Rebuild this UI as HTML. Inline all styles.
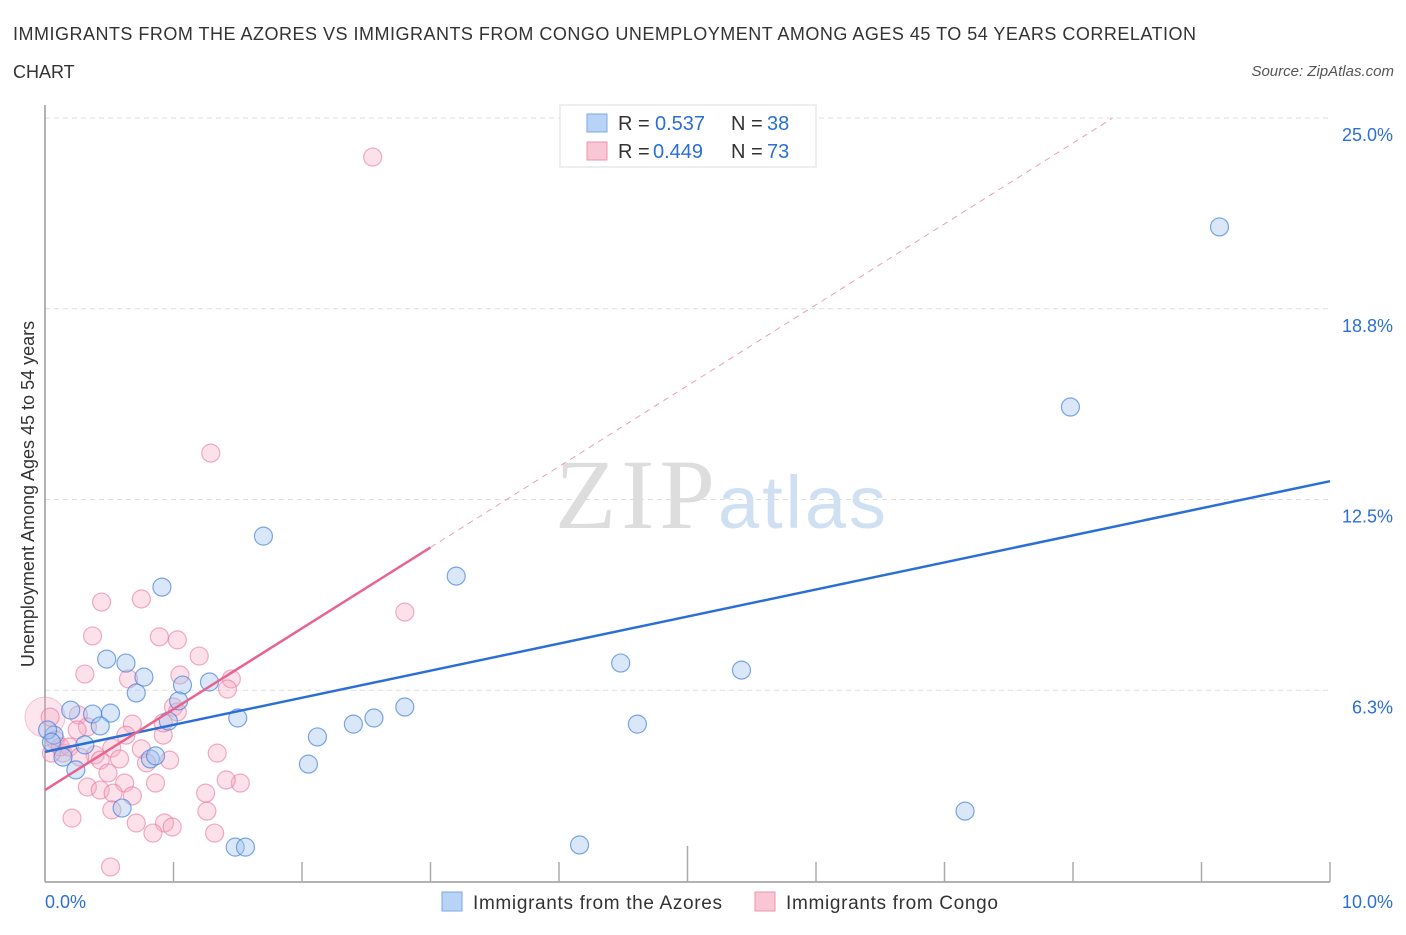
<!DOCTYPE html>
<html><head><meta charset="utf-8"><style>
body{margin:0;background:#fff;font-family:"Liberation Sans",sans-serif;}
#c{position:absolute;left:0;top:0;width:1406px;height:930px;}
</style></head><body>
<div id="c">
<svg width="1406" height="930" xmlns="http://www.w3.org/2000/svg">
<text x="13" y="40" font-size="18" fill="#333" textLength="1183">IMMIGRANTS FROM THE AZORES VS IMMIGRANTS FROM CONGO UNEMPLOYMENT AMONG AGES 45 TO 54 YEARS CORRELATION</text>
<text x="13" y="78" font-size="18" fill="#333">CHART</text>
<text x="1394" y="76" font-size="15" fill="#555" font-style="italic" text-anchor="end">Source: ZipAtlas.com</text>
<text x="555" y="528" font-size="100" fill="#ddd" font-family="Liberation Serif,serif" textLength="160">ZIP</text>
<text x="718" y="528" font-size="74" fill="#cfe0f3" textLength="168">atlas</text>
<g id="grid"></g>
<g id="axes"></g>
<g id="marks"></g>
<text transform="translate(34,494) rotate(-90)" font-size="18" fill="#333" text-anchor="middle">Unemployment Among Ages 45 to 54 years</text>
<g>
<rect x="560" y="105" width="256" height="62" fill="#fff" stroke="#ddd"/>
<rect x="587" y="114" width="20" height="18" fill="#b8d3f5" stroke="#7aa8e6"/>
<rect x="587" y="142" width="20" height="18" fill="#f9c6d5" stroke="#ee93ad"/>
<text x="618" y="130" font-size="20" fill="#333">R =</text>
<text x="655" y="130" font-size="20" fill="#2b6fd6">0.537</text>
<text x="731" y="130" font-size="20" fill="#333">N =</text>
<text x="767" y="130" font-size="20" fill="#2b6fd6">38</text>
<text x="618" y="158" font-size="20" fill="#333">R =</text>
<text x="653" y="158" font-size="20" fill="#2b6fd6">0.449</text>
<text x="731" y="158" font-size="20" fill="#333">N =</text>
<text x="767" y="158" font-size="20" fill="#2b6fd6">73</text>
</g>
<g>
<rect x="442" y="892" width="20" height="19" fill="#b8d3f5" stroke="#7aa8e6"/>
<text x="473" y="909" font-size="19" fill="#333" textLength="249">Immigrants from the Azores</text>
<rect x="755" y="892" width="20" height="19" fill="#f9c6d5" stroke="#ee93ad"/>
<text x="786" y="909" font-size="19" fill="#333" textLength="212">Immigrants from Congo</text>
</g>
</svg>
</div>
<script>
const blueX=[9.14,7.98,1.70,3.20,0.91,0.48,0.63,0.77,0.71,1.07,1.28,4.48,5.42,1.04,2.80,0.20,0.37,0.51,1.50,2.56,2.40,4.61,0.96,0.43,2.12,0.07,0.31,0.14,2.05,0.24,0.82,0.86,0.60,7.16,4.16,1.48,1.56,0.02,0.05];
const blueY=[21.43,15.53,11.30,9.99,9.63,7.27,7.14,6.68,6.16,6.42,6.52,7.14,6.91,5.90,5.70,5.60,5.47,5.50,5.34,5.34,5.14,5.14,5.24,5.08,4.72,4.78,4.46,4.06,3.83,3.64,4.00,4.10,2.39,2.29,1.18,1.11,1.11,4.95,4.55];
const pinkX=[2.55,1.29,2.80,0.44,0.75,0.37,0.89,1.03,1.20,0.31,1.05,0.65,1.45,1.42,1.00,0.26,0.68,0.63,0.92,0.04,1.34,0.52,0.75,0.39,0.14,0.43,0.58,0.79,0.97,0.49,0.33,0.62,0.86,1.25,1.52,1.41,0.43,0.53,0.68,0.52,1.26,0.21,0.71,0.93,0.99,0.84,1.32,0.51,0.08,0.12,0.19,0.27,0.05,0.33,0.25,0.92,1.03];
const pinkY=[23.72,14.02,8.81,9.14,9.24,8.03,8.00,7.90,7.37,6.78,6.75,6.62,6.62,6.29,5.70,5.44,5.14,4.78,4.78,5.37,4.19,4.36,4.33,4.13,4.19,3.96,4.00,3.87,3.96,3.54,3.08,3.21,3.21,2.88,3.21,3.31,2.98,2.88,2.79,2.33,2.29,2.06,1.90,1.90,1.77,1.57,1.57,0.46,4.62,4.39,4.39,4.06,4.19,5.05,4.95,5.18,5.54];
const blueTrend=[4.23,0.887];
const pinkTrend=[2.98,2.65];
const yTicks=[6.25,12.5,18.75,25];
const yTickLabels=["6.3%","12.5%","18.8%","25.0%"];
const xTicks=[0,1,2,3,4,5,6,7,8,9,10];
const NS="http://www.w3.org/2000/svg";
const sx=v=>45+v*128.5, sy=v=>881-v*30.52;
function mk(tag,at,parent){const e=document.createElementNS(NS,tag);for(const k in at)e.setAttribute(k,at[k]);document.getElementById(parent).appendChild(e);return e;}
yTicks.forEach((t,i)=>{
 const l=mk('line',{x1:45,x2:1330,y1:sy(t),y2:sy(t),stroke:'#ddd','stroke-dasharray':'5,4'},'grid');
 
 
 const tx=mk('text',{x:1393,y:sy(t)+23,'font-size':18,fill:'#2b6fd6','text-anchor':'end'},'grid');
 tx.textContent=yTickLabels[i];
 
 
});
const ya=mk('line',{x1:45,x2:45,y1:105,y2:882,stroke:'#999','stroke-width':1.5},'axes');


const xa=mk('line',{x1:45,x2:1330,y1:882,y2:882,stroke:'#999','stroke-width':1.5},'axes');


xTicks.forEach(t=>{
 const l=mk('line',{x1:sx(t),x2:sx(t),y1:t==5?846:862,y2:882,stroke:'#aaa','stroke-width':1.5},'axes');
 
 
});
const x0=mk('text',{x:45,y:908,'font-size':18,fill:'#2b6fd6'},'axes');x0.textContent='0.0%';


const x1=mk('text',{x:1393,y:908,'font-size':18,fill:'#2b6fd6','text-anchor':'end'},'axes');x1.textContent='10.0%';


const big=mk('circle',{cx:sx(0),cy:sy(5.37),r:20,fill:'rgba(246,170,195,0.3)',stroke:'rgba(232,120,155,0.4)'},'marks');


pinkX.forEach((x,i)=>{
 const c=mk('circle',{cx:sx(x),cy:sy(pinkY[i]),r:9,fill:'rgba(246,170,195,0.35)',stroke:'rgba(232,120,155,0.6)','stroke-width':1.2},'marks');
 
 
});
blueX.forEach((x,i)=>{
 const c=mk('circle',{cx:sx(x),cy:sy(blueY[i]),r:9,fill:'rgba(160,195,240,0.4)',stroke:'rgba(70,130,220,0.7)','stroke-width':1.2},'marks');
 
 
});
const bl=mk('line',{x1:sx(0),y1:sy(blueTrend[0]),x2:sx(10),y2:sy(blueTrend[0]+10*blueTrend[1]),stroke:'#2b6fd6','stroke-width':2.5},'marks');


const pEnd=3.0, pMax=(25-pinkTrend[0])/pinkTrend[1];
const pl=mk('line',{x1:sx(0),y1:sy(pinkTrend[0]),x2:sx(pEnd),y2:sy(pinkTrend[0]+pEnd*pinkTrend[1]),stroke:'#e8648f','stroke-width':2.5},'marks');


const pd=mk('line',{x1:sx(pEnd),y1:sy(pinkTrend[0]+pEnd*pinkTrend[1]),x2:sx(pMax),y2:sy(25),stroke:'#eaa0b8','stroke-width':1,'stroke-dasharray':'6,5'},'marks');


</script>
</body></html>
